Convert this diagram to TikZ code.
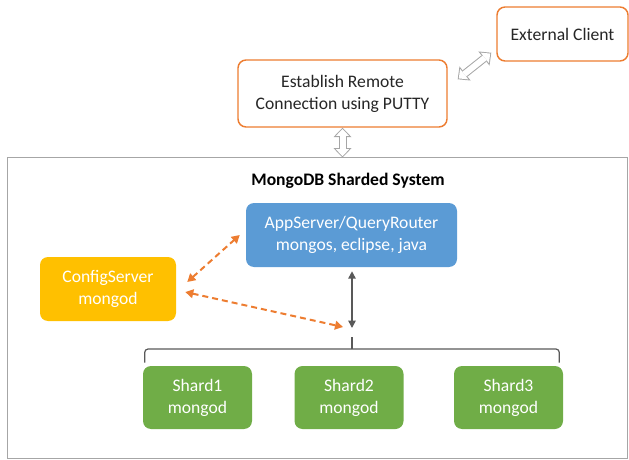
\documentclass[tikz,border=0pt]{standalone}
\usepackage{fontspec}
\setmainfont{Carlito}
\usetikzlibrary{arrows.meta,calc}

\definecolor{msblue}{HTML}{5B9BD5}
\definecolor{msgold}{HTML}{FFC000}
\definecolor{msgreen}{HTML}{70AD47}
\definecolor{msorange}{HTML}{ED7D31}
\definecolor{msgray}{HTML}{A6A6A6}
\definecolor{msdark}{HTML}{595959}

\tikzset{
  box/.style={rounded corners=6pt, align=center, inner sep=0pt,
    font=\fontsize{13.2}{16.5}\selectfont},
  linebox/.style={box, draw=msorange, line width=1.1pt, fill=white, text=black!85},
  fillbox/.style={box, text=white},
  dasharrow/.style={msorange, line width=1.5pt, dash pattern=on 4.5pt off 3pt,
    {Triangle[length=6pt,width=6.5pt]}-{Triangle[length=6pt,width=6.5pt]}},
  darkarrow/.style={msdark, line width=1.1pt,
    {Triangle[length=5.5pt,width=5.5pt]}-{Triangle[length=5.5pt,width=5.5pt]}},
  hollow/.style={msgray, line width=6pt,
    {Triangle[length=7pt,width=13.5pt,line width=0pt]}-{Triangle[length=7pt,width=13.5pt,line width=0pt]},
    postaction={draw=white, line width=4.5pt, shorten <=1pt, shorten >=1pt,
      {Triangle[length=5.2pt,width=10pt,line width=0pt]}-{Triangle[length=5.2pt,width=10pt,line width=0pt]}}}
}

\begin{document}
\begin{tikzpicture}[x=0.75pt,y=-0.75pt]
      \useasboundingbox (0,0) rectangle (629,460);

      % outside the system
      \node[linebox, minimum width=98.25pt, minimum height=40.5pt] (ext) at (562.5,34) {External Client};
      \node[linebox, minimum width=156.75pt, minimum height=50.25pt] (putty) at (342.5,93.5)
        {Establish Remote\\Connection using PUTTY};

      % sharded system
      \node[draw=msgray, line width=0.75pt, inner sep=0pt, minimum width=465pt, minimum height=225pt] (sys) at (317,308) {};
      \node[font=\bfseries\fontsize{13.2}{16}\selectfont] (title) at (348,181) {MongoDB Sharded System};

      \node[fillbox, fill=msblue, minimum width=158.25pt, minimum height=48pt] (app) at (351.5,235)
        {AppServer/QueryRouter\\mongos, eclipse, java};
      \node[fillbox, fill=msgold, minimum width=102pt, minimum height=48pt] (cfg) at (108,289)
        {ConfigServer\\mongod};

      % shards
      \node[fillbox, fill=msgreen, minimum width=81.75pt, minimum height=47.25pt] (shard1) at (197.5,397.5) {Shard1\\mongod};
      \node[fillbox, fill=msgreen, minimum width=81.75pt, minimum height=47.25pt] (shard2) at (349,397.5) {Shard2\\mongod};
      \node[fillbox, fill=msgreen, minimum width=81.75pt, minimum height=47.25pt] (shard3) at (508.5,397.5) {Shard3\\mongod};

      % brace over the shards
      \coordinate (hub) at (352,328);
      \draw[msdark, line width=0.9pt, rounded corners=2.5pt] ($(shard1.north west)+(2,-3)$) |- (352,349) -| ($(shard3.north east)+(-4,-3)$);
      \draw[msdark, line width=0.9pt] (352,349) -- (352,337);

      % links
      \draw[hollow] (putty.south) -- (putty.south |- sys.north);
      \draw[hollow] ($(putty.north east)+(10,20)$) -- ($(ext.south west)+(-5,-9)$);

      \draw[darkarrow, shorten <=3pt] (app.south -| hub) -- (hub);
      \draw[dasharrow] ($(cfg.east)+(11,-7)$) -- ($(app.west)+(-6,0)$);
      \draw[dasharrow] ($(cfg.east)+(9,3)$) -- ($(hub)+(-9,-1)$);
    \end{tikzpicture}
\end{document}
